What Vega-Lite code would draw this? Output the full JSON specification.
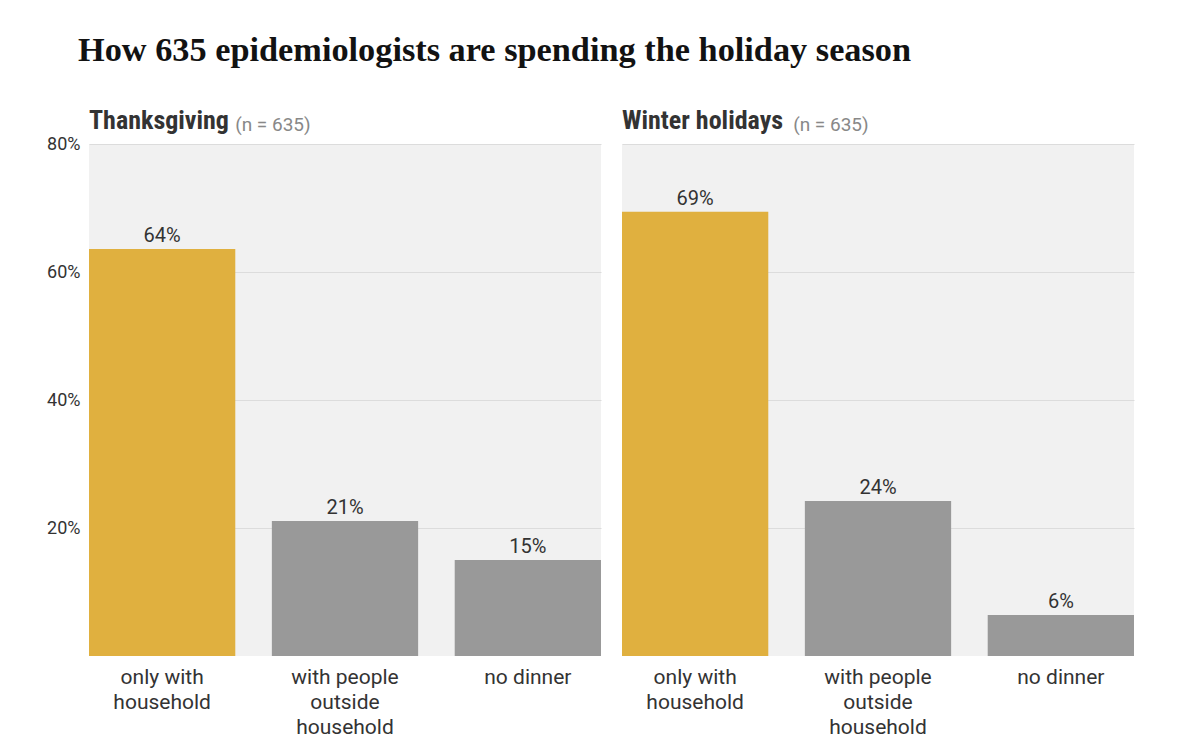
{
  "$schema": "https://vega.github.io/schema/vega-lite/v6.json",
  "padding": {"left": 46, "top": 33, "right": 10, "bottom": 10},
  "title": {
    "text": "How 635 epidemiologists are spending the holiday season",
    "anchor": "start",
    "frame": "group",
    "font": "Liberation Serif",
    "fontSize": 34.3,
    "fontWeight": "bold",
    "color": "#121212",
    "dx": -11,
    "offset": 40
  },
  "datasets": {
    "survey": [
      {"holiday": "Thanksgiving", "plan": "only with household", "share": 63.6, "label": "64%"},
      {"holiday": "Thanksgiving", "plan": "with people outside household", "share": 21.1, "label": "21%"},
      {"holiday": "Thanksgiving", "plan": "no dinner", "share": 15.0, "label": "15%"},
      {"holiday": "Winter holidays", "plan": "only with household", "share": 69.4, "label": "69%"},
      {"holiday": "Winter holidays", "plan": "with people outside household", "share": 24.2, "label": "24%"},
      {"holiday": "Winter holidays", "plan": "no dinner", "share": 6.4, "label": "6%"}
    ]
  },
  "data": {"name": "survey"},
  "spacing": 21,
  "config": {
    "view": {"fill": "#f1f1f1", "stroke": null},
    "font": "Roboto",
    "axisX": {
      "domain": false,
      "ticks": false,
      "labelAngle": 0,
      "labelFontSize": 21,
      "labelColor": "#333333",
      "labelPadding": 10,
      "labelLineHeight": 25,
      "labelLimit": 0,
      "title": null,
      "labelExpr": "datum.value == 'only with household' ? ['only with', 'household'] : datum.value == 'with people outside household' ? ['with people', 'outside', 'household'] : datum.value"
    },
    "axisY": {
      "domain": false,
      "ticks": false,
      "gridColor": "#dcdcdc",
      "gridWidth": 1,
      "labelFontSize": 18,
      "labelColor": "#333333",
      "labelPadding": 9,
      "title": null,
      "labelExpr": "datum.value + '%'"
    }
  },
  "hconcat": [
    {
      "width": 512,
      "height": 512,
      "title": {
        "text": "Thanksgiving",
        "anchor": "start",
        "frame": "group",
        "font": "Roboto Condensed",
        "fontSize": 26,
        "fontWeight": "bold",
        "color": "#333333",
        "offset": -18
      },
      "transform": [{"filter": "datum.holiday == 'Thanksgiving'"}],
      "encoding": {
        "x": {"field": "plan", "type": "nominal", "sort": null, "scale": {"paddingInner": 0.2, "paddingOuter": 0}},
        "y": {"field": "share", "type": "quantitative", "scale": {"domain": [0, 80]}, "axis": {"values": [20, 40, 60, 80]}}
      },
      "layer": [
        {
          "mark": {"type": "bar"},
          "encoding": {
            "color": {
              "field": "plan",
              "type": "nominal",
              "scale": {"domain": ["only with household", "with people outside household", "no dinner"], "range": ["#e0b03f", "#999999", "#999999"]},
              "legend": null
            }
          }
        },
        {
          "mark": {"type": "text", "baseline": "alphabetic", "dy": -7, "fontSize": 20, "color": "#333333"},
          "encoding": {"text": {"field": "label", "type": "nominal"}}
        },
        {
          "transform": [{"filter": "datum.plan == 'only with household'"}],
          "mark": {"type": "text", "align": "left", "baseline": "alphabetic", "dx": 73, "dy": -13, "fontSize": 19, "color": "#888888"},
          "encoding": {
            "y": {"datum": 80},
            "text": {"value": "(n = 635)"}
          }
        }
      ]
    },
    {
      "width": 512,
      "height": 512,
      "title": {
        "text": "Winter holidays",
        "anchor": "start",
        "frame": "group",
        "font": "Roboto Condensed",
        "fontSize": 26,
        "fontWeight": "bold",
        "color": "#333333",
        "offset": -18
      },
      "transform": [{"filter": "datum.holiday == 'Winter holidays'"}],
      "encoding": {
        "x": {"field": "plan", "type": "nominal", "sort": null, "scale": {"paddingInner": 0.2, "paddingOuter": 0}},
        "y": {"field": "share", "type": "quantitative", "scale": {"domain": [0, 80]}, "axis": {"values": [20, 40, 60, 80], "labels": false}}
      },
      "layer": [
        {
          "mark": {"type": "bar"},
          "encoding": {
            "color": {
              "field": "plan",
              "type": "nominal",
              "scale": {"domain": ["only with household", "with people outside household", "no dinner"], "range": ["#e0b03f", "#999999", "#999999"]},
              "legend": null
            }
          }
        },
        {
          "mark": {"type": "text", "baseline": "alphabetic", "dy": -7, "fontSize": 20, "color": "#333333"},
          "encoding": {"text": {"field": "label", "type": "nominal"}}
        },
        {
          "transform": [{"filter": "datum.plan == 'only with household'"}],
          "mark": {"type": "text", "align": "left", "baseline": "alphabetic", "dx": 98, "dy": -13, "fontSize": 19, "color": "#888888"},
          "encoding": {
            "y": {"datum": 80},
            "text": {"value": "(n = 635)"}
          }
        }
      ]
    }
  ]
}
